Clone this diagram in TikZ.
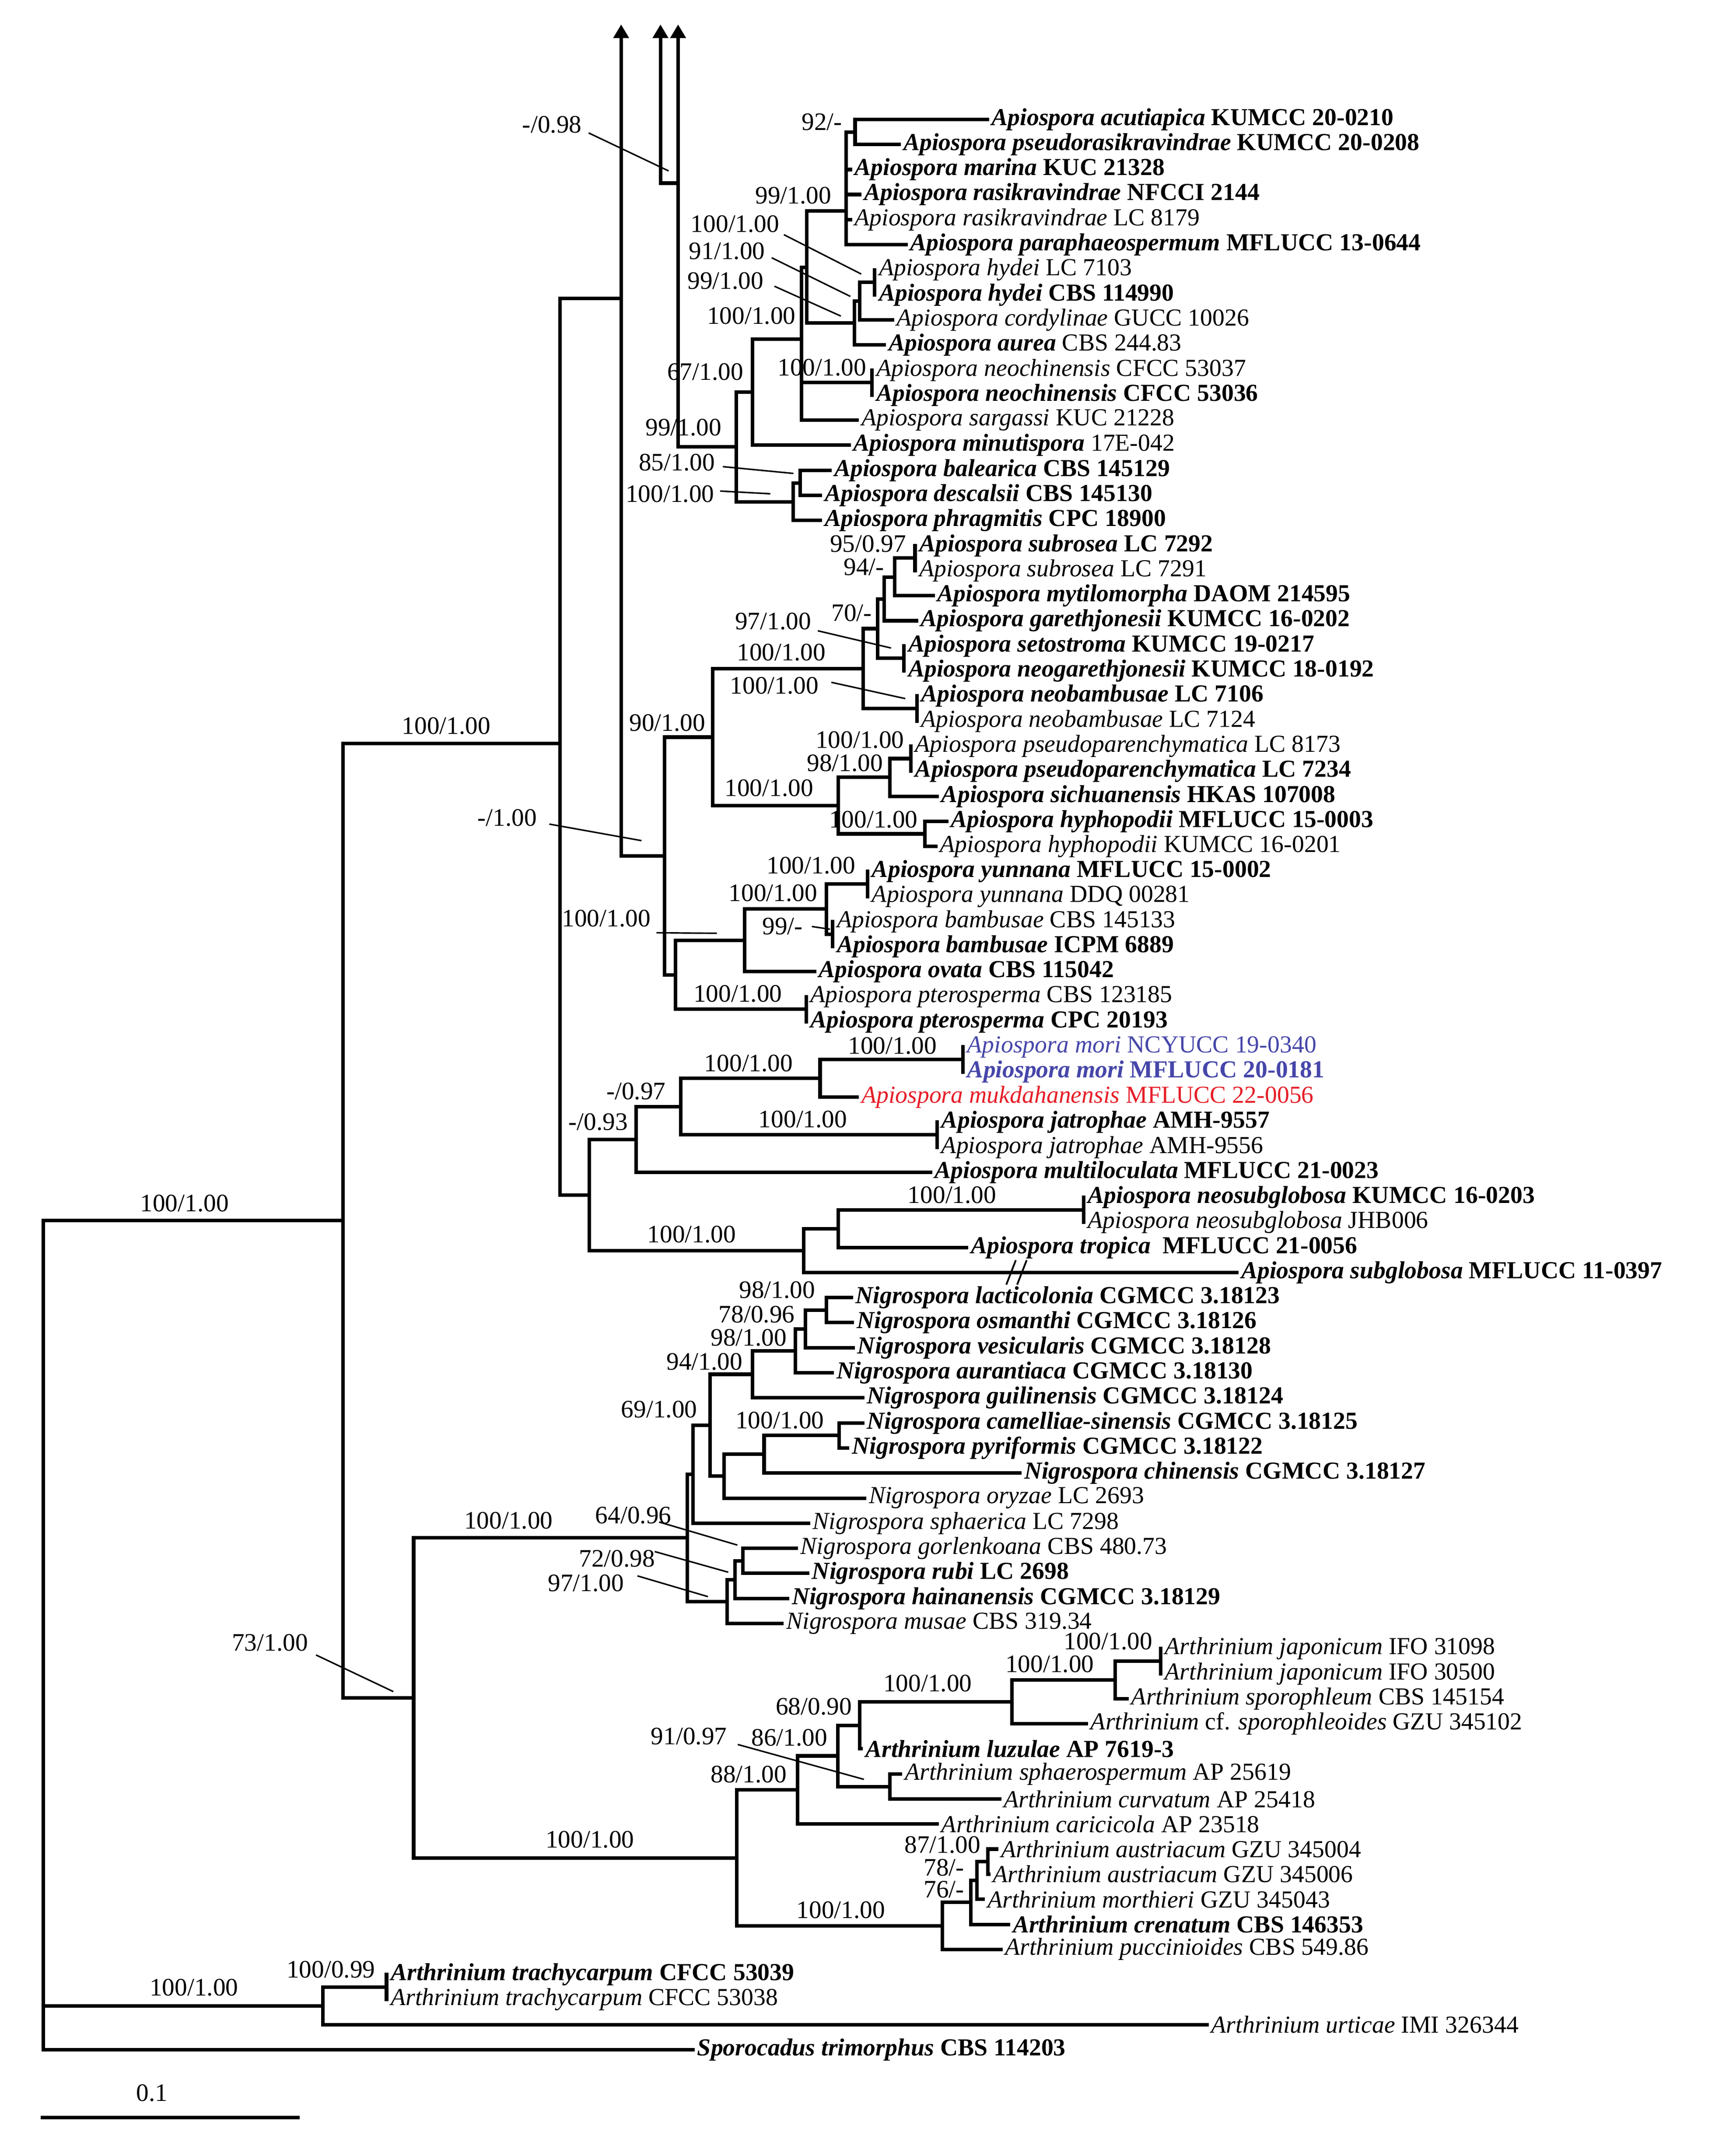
\documentclass[tikz,border=0pt]{standalone}
\usepackage{fontspec}
\setmainfont{Liberation Serif}
\usetikzlibrary{arrows.meta}
\definecolor{mblue}{RGB}{70,70,170}
\definecolor{mred}{RGB}{230,30,40}
\newcommand\lb[2]{\textbf{\textit{#1}} \textbf{#2}}
\newcommand\lp[2]{\textit{#1} #2}
\newcommand\lm[2]{\textbf{\textit{#1}} #2}
\newcommand\kl[2]{\draw[br] (#1 |- #2.west) -- (#2.west);}
\newcommand\ki[2]{\draw[br] (#1 |- #2) -- (#2);}
\newcommand\vv[3]{\draw[br] (#1 |- #2) -- (#1 |- #3);}
\begin{document}
\begin{tikzpicture}[x=1pt,y=-1pt,
  br/.style={line width=2.6pt,line cap=rect},
  ld/.style={line width=1.1pt},
  arr/.style={-{Triangle[width=11pt,length=10pt]}},
  leaf/.style={anchor=west,inner xsep=3pt,inner ysep=0pt,font=\fontsize{18}{20}\selectfont},
  sv/.style={inner sep=0pt,font=\fontsize{18.5}{20}\selectfont}]
\useasboundingbox (0,0) rectangle (1280,1582);
% ---------- leaves ----------
\node[leaf] (l1) at (728,88.0) {\lb{Apiospora acutiapica}{KUMCC 20-0210}};
\node[leaf] (l2) at (663,106.5) {\lb{Apiospora pseudorasikravindrae}{KUMCC 20-0208}};
\node[leaf] (l3) at (627,125.0) {\lb{Apiospora marina}{KUC 21328}};
\node[leaf] (l4) at (634,143.4) {\lb{Apiospora rasikravindrae}{NFCCI 2144}};
\node[leaf] (l5) at (627,161.9) {\lp{Apiospora rasikravindrae}{LC 8179}};
\node[leaf] (l6) at (668,180.4) {\lb{Apiospora paraphaeospermum}{MFLUCC 13-0644}};
\node[leaf] (l7) at (645,198.9) {\lp{Apiospora hydei}{LC 7103}};
\node[leaf] (l8) at (645,217.4) {\lb{Apiospora hydei}{CBS 114990}};
\node[leaf] (l9) at (658,235.8) {\lp{Apiospora cordylinae}{GUCC 10026}};
\node[leaf] (l10) at (652,254.3) {\lm{Apiospora aurea}{CBS 244.83}};
\node[leaf] (l11) at (643,272.8) {\lp{Apiospora neochinensis}{CFCC 53037}};
\node[leaf] (l12) at (643,291.3) {\lb{Apiospora neochinensis}{CFCC 53036}};
\node[leaf] (l13) at (632,309.8) {\lp{Apiospora sargassi}{KUC 21228}};
\node[leaf] (l14) at (626,328.2) {\lm{Apiospora minutispora}{17E-042}};
\node[leaf] (l15) at (612,346.7) {\lb{Apiospora balearica}{CBS 145129}};
\node[leaf] (l16) at (605,365.2) {\lb{Apiospora descalsii}{CBS 145130}};
\node[leaf] (l17) at (605,383.7) {\lb{Apiospora phragmitis}{CPC 18900}};
\node[leaf] (l18) at (674.7,402.2) {\lb{Apiospora subrosea}{LC 7292}};
\node[leaf] (l19) at (674.7,420.6) {\lp{Apiospora subrosea}{LC 7291}};
\node[leaf] (l20) at (688,439.1) {\lb{Apiospora mytilomorpha}{DAOM 214595}};
\node[leaf] (l21) at (675.7,457.6) {\lb{Apiospora garethjonesii}{KUMCC 16-0202}};
\node[leaf] (l22) at (666.5,476.1) {\lb{Apiospora setostroma}{KUMCC 19-0217}};
\node[leaf] (l23) at (666.5,494.6) {\lb{Apiospora neogarethjonesii}{KUMCC 18-0192}};
\node[leaf] (l24) at (676,513.0) {\lb{Apiospora neobambusae}{LC 7106}};
\node[leaf] (l25) at (676,531.5) {\lp{Apiospora neobambusae}{LC 7124}};
\node[leaf] (l26) at (671.6,550.0) {\lp{Apiospora pseudoparenchymatica}{LC 8173}};
\node[leaf] (l27) at (671.6,568.5) {\lb{Apiospora pseudoparenchymatica}{LC 7234}};
\node[leaf] (l28) at (691,587.0) {\lb{Apiospora sichuanensis}{HKAS 107008}};
\node[leaf] (l29) at (698,605.4) {\lb{Apiospora hyphopodii}{MFLUCC 15-0003}};
\node[leaf] (l30) at (690,623.9) {\lp{Apiospora hyphopodii}{KUMCC 16-0201}};
\node[leaf] (l31) at (639.7,642.4) {\lb{Apiospora yunnana}{MFLUCC 15-0002}};
\node[leaf] (l32) at (639.7,660.9) {\lp{Apiospora yunnana}{DDQ 00281}};
\node[leaf] (l33) at (614,679.4) {\lp{Apiospora bambusae}{CBS 145133}};
\node[leaf] (l34) at (614,697.8) {\lb{Apiospora bambusae}{ICPM 6889}};
\node[leaf] (l35) at (600.6,716.3) {\lb{Apiospora ovata}{CBS 115042}};
\node[leaf] (l36) at (594.4,734.8) {\lp{Apiospora pterosperma}{CBS 123185}};
\node[leaf] (l37) at (594.4,753.3) {\lb{Apiospora pterosperma}{CPC 20193}};
\node[leaf,text=mblue] (l38) at (710,771.8) {\lp{Apiospora mori}{NCYUCC 19-0340}};
\node[leaf,text=mblue] (l39) at (710,790.2) {\lb{Apiospora mori}{MFLUCC 20-0181}};
\node[leaf,text=mred] (l40) at (632,808.7) {\lp{Apiospora mukdahanensis}{MFLUCC 22-0056}};
\node[leaf] (l41) at (691,827.2) {\lb{Apiospora jatrophae}{AMH-9557}};
\node[leaf] (l42) at (691,845.7) {\lp{Apiospora jatrophae}{AMH-9556}};
\node[leaf] (l43) at (686,864.2) {\lb{Apiospora multiloculata}{MFLUCC 21-0023}};
\node[leaf] (l44) at (799,882.6) {\lb{Apiospora neosubglobosa}{KUMCC 16-0203}};
\node[leaf] (l45) at (799,901.1) {\lp{Apiospora neosubglobosa}{JHB006}};
\node[leaf] (l46) at (712.7,919.6) {\lb{Apiospora tropica}{\ MFLUCC 21-0056}};
\node[leaf] (l47) at (912,938.1) {\lb{Apiospora subglobosa}{MFLUCC 11-0397}};
\node[leaf] (l48) at (627.6,956.6) {\lb{Nigrospora lacticolonia}{CGMCC 3.18123}};
\node[leaf] (l49) at (628.5,975.0) {\lb{Nigrospora osmanthi}{CGMCC 3.18126}};
\node[leaf] (l50) at (629,993.5) {\lb{Nigrospora vesicularis}{CGMCC 3.18128}};
\node[leaf] (l51) at (613.6,1012.0) {\lb{Nigrospora aurantiaca}{CGMCC 3.18130}};
\node[leaf] (l52) at (636,1030.5) {\lb{Nigrospora guilinensis}{CGMCC 3.18124}};
\node[leaf] (l53) at (636,1049.0) {\lb{Nigrospora camelliae-sinensis}{CGMCC 3.18125}};
\node[leaf] (l54) at (625,1067.4) {\lb{Nigrospora pyriformis}{CGMCC 3.18122}};
\node[leaf] (l55) at (752,1085.9) {\lb{Nigrospora chinensis}{CGMCC 3.18127}};
\node[leaf] (l56) at (637.5,1104.4) {\lp{Nigrospora oryzae}{LC 2693}};
\node[leaf] (l57) at (596,1122.9) {\lp{Nigrospora sphaerica}{LC 7298}};
\node[leaf] (l58) at (587,1141.4) {\lp{Nigrospora gorlenkoana}{CBS 480.73}};
\node[leaf] (l59) at (595.5,1159.8) {\lb{Nigrospora rubi}{LC 2698}};
\node[leaf] (l60) at (580.7,1178.3) {\lb{Nigrospora hainanensis}{CGMCC 3.18129}};
\node[leaf] (l61) at (576.6,1196.8) {\lp{Nigrospora musae}{CBS 319.34}};
\node[leaf] (l62) at (855.8,1215.3) {\lp{Arthrinium japonicum}{IFO 31098}};
\node[leaf] (l63) at (855.8,1233.8) {\lp{Arthrinium japonicum}{IFO 30500}};
\node[leaf] (l64) at (831,1252.2) {\lp{Arthrinium sporophleum}{CBS 145154}};
\node[leaf] (l65) at (801,1270.7) {\textit{Arthrinium} cf. \textit{sporophleoides} GZU 345102};
\node[leaf] (l66) at (635,1289.2) {\lb{Arthrinium luzulae}{AP 7619-3}};
\node[leaf] (l67) at (664,1307.7) {\lp{Arthrinium sphaerospermum}{AP 25619}};
\node[leaf] (l68) at (737,1326.2) {\lp{Arthrinium curvatum}{AP 25418}};
\node[leaf] (l69) at (691,1344.6) {\lp{Arthrinium caricicola}{AP 23518}};
\node[leaf] (l70) at (735,1363.1) {\lp{Arthrinium austriacum}{GZU 345004}};
\node[leaf] (l71) at (729,1381.6) {\lp{Arthrinium austriacum}{GZU 345006}};
\node[leaf] (l72) at (725,1400.1) {\lp{Arthrinium morthieri}{GZU 345043}};
\node[leaf] (l73) at (743.6,1418.6) {\lb{Arthrinium crenatum}{CBS 146353}};
\node[leaf] (l74) at (738,1437.0) {\lp{Arthrinium puccinioides}{CBS 549.86}};
\node[leaf] (l75) at (285,1455.5) {\lb{Arthrinium trachycarpum}{CFCC 53039}};
\node[leaf] (l76) at (285,1474.0) {\lp{Arthrinium trachycarpum}{CFCC 53038}};
\node[leaf] (l77) at (890,1492.5) {\lp{Arthrinium urticae}{IMI 326344}};
\node[leaf] (l78) at (511,1511.0) {\lb{Sporocadus trimorphus}{CBS 114203}};
% ---------- internal nodes ----------
\coordinate (n92) at (630.5,97.3);
\coordinate (n99a) at (624,155.6);
\coordinate (nH1) at (645,208.2);
\coordinate (nH2) at (634,222);
\coordinate (nH3) at (630,238.2);
\coordinate (nN3) at (595,197);
\coordinate (nNeo) at (643,282);
\coordinate (n100d) at (591,250);
\coordinate (n67) at (555,289);
\coordinate (nBD) at (590,356);
\coordinate (nBal) at (585,370);
\coordinate (n99b) at (543,329.5);
\coordinate (arA) at (458,18);
\coordinate (arB) at (487,18);
\coordinate (arC) at (500,18);
\coordinate (jA) at (458,220);
\coordinate (jB) at (487,135);
\coordinate (nSub) at (674.7,411.4);
\coordinate (nMyt) at (659.7,425.5);
\coordinate (nGar) at (652,441.5);
\coordinate (nSet) at (666.5,485.3);
\coordinate (nSG) at (647,463.4);
\coordinate (nNb) at (676,522.3);
\coordinate (nU) at (636.6,492.8);
\coordinate (nPp) at (671.6,559.2);
\coordinate (nPS) at (656,573);
\coordinate (nHy) at (682,614.7);
\coordinate (nL) at (618,594);
\coordinate (n90) at (525.5,543.4);
\coordinate (nYu) at (639.7,651.6);
\coordinate (nBa) at (614,688.6);
\coordinate (nYB) at (609.5,670.1);
\coordinate (nOv) at (549,693.2);
\coordinate (nPt) at (594.4,744);
\coordinate (nPO) at (498,718.6);
\coordinate (n1) at (490,631);
\coordinate (nMo) at (710,781);
\coordinate (nMM) at (604.7,794.9);
\coordinate (nJa) at (691,836.5);
\coordinate (nMJ) at (502,815.7);
\coordinate (n097) at (469,840);
\coordinate (nNs) at (799,891.9);
\coordinate (nNT) at (618,905.8);
\coordinate (nTS) at (592.6,922);
\coordinate (n093) at (434.6,881);
\coordinate (nB) at (413,548);
\coordinate (nLO) at (609.5,965.8);
\coordinate (n78) at (594,979.6);
\coordinate (n98b) at (586.5,995.8);
\coordinate (n94) at (555,1013.1);
\coordinate (nCP) at (618.6,1058.2);
\coordinate (nCh) at (563.4,1072);
\coordinate (nOr) at (533.8,1088.2);
\coordinate (n69) at (523.6,1050.6);
\coordinate (nSp) at (511,1086.8);
\coordinate (nGR) at (547.8,1150.6);
\coordinate (nHa) at (542,1164.5);
\coordinate (nMu) at (536,1180.7);
\coordinate (nNig) at (506.7,1133.7);
\coordinate (nJp) at (855.8,1224.5);
\coordinate (nSpo) at (822.4,1238.4);
\coordinate (nCf) at (746,1254.5);
\coordinate (nLu) at (634,1271.9);
\coordinate (nSC) at (656,1317);
\coordinate (n86) at (617.7,1294.4);
\coordinate (n88) at (588,1319.5);
\coordinate (nAu) at (728.5,1372.4);
\coordinate (n78b) at (720.3,1386.2);
\coordinate (n76) at (715.7,1402.4);
\coordinate (nPu) at (695,1419.7);
\coordinate (nArt) at (543.3,1369.6);
\coordinate (nC) at (305,1251.6);
\coordinate (nA) at (253,899.8);
\coordinate (nTr) at (285,1464.8);
\coordinate (nT) at (238,1478.6);
\coordinate (nR) at (32,1000);
% ---------- branches ----------
% top clade
\vv{n92}{l1}{l2} \kl{n92}{l1} \kl{n92}{l2}
\vv{n99a}{n92}{l6} \ki{n99a}{n92} \kl{n99a}{l3} \kl{n99a}{l4} \kl{n99a}{l5} \kl{n99a}{l6}
\vv{nH1}{l7}{l8}
\vv{nH2}{nH1}{l9} \ki{nH2}{nH1} \kl{nH2}{l9}
\vv{nH3}{nH2}{l10} \ki{nH3}{nH2} \kl{nH3}{l10}
\vv{nN3}{n99a}{nH3} \ki{nN3}{n99a} \ki{nN3}{nH3}
\vv{nNeo}{l11}{l12}
\vv{n100d}{nN3}{l13} \ki{n100d}{nN3} \ki{n100d}{nNeo} \kl{n100d}{l13}
\vv{n67}{n100d}{l14} \ki{n67}{n100d} \kl{n67}{l14}
\vv{nBD}{l15}{l16} \kl{nBD}{l15} \kl{nBD}{l16}
\vv{nBal}{nBD}{l17} \ki{nBal}{nBD} \kl{nBal}{l17}
\vv{n99b}{n67}{nBal} \ki{n99b}{n67} \ki{n99b}{nBal}
% arrow lines
\draw[br] (n99b -| arC) -- (n99b);
\draw[br,arr] (n99b -| arC) -- (arC);
\draw[br,arr] (jB -| arC) -- (jB) -- (arB);
\draw[br,arr] (n1 -| arA) -- (arA);
\draw[br] (n1 -| arA) -- (n1);
\draw[br] (nB |- jA) -- (jA);
% 90/1.00 clade
\vv{nSub}{l18}{l19}
\vv{nMyt}{nSub}{l20} \ki{nMyt}{nSub} \kl{nMyt}{l20}
\vv{nGar}{nMyt}{l21} \ki{nGar}{nMyt} \kl{nGar}{l21}
\vv{nSet}{l22}{l23}
\vv{nSG}{nGar}{nSet} \ki{nSG}{nGar} \ki{nSG}{nSet}
\vv{nNb}{l24}{l25}
\vv{nU}{nSG}{nNb} \ki{nU}{nSG} \ki{nU}{nNb}
\vv{nPp}{l26}{l27}
\vv{nPS}{nPp}{l28} \ki{nPS}{nPp} \kl{nPS}{l28}
\vv{nHy}{l29}{l30} \kl{nHy}{l29} \kl{nHy}{l30}
\vv{nL}{nPS}{nHy} \ki{nL}{nPS} \ki{nL}{nHy}
\vv{n90}{nU}{nL} \ki{n90}{nU} \ki{n90}{nL}
\vv{nYu}{l31}{l32}
\vv{nBa}{l33}{l34}
\vv{nYB}{nYu}{nBa} \ki{nYB}{nYu} \ki{nYB}{nBa}
\vv{nOv}{nYB}{l35} \ki{nOv}{nYB} \kl{nOv}{l35}
\vv{nPt}{l36}{l37}
\vv{nPO}{nOv}{nPt} \ki{nPO}{nOv} \ki{nPO}{nPt}
\vv{n1}{n90}{nPO} \ki{n1}{n90} \ki{n1}{nPO}
% mori etc
\vv{nMo}{l38}{l39}
\vv{nMM}{nMo}{l40} \ki{nMM}{nMo} \kl{nMM}{l40}
\vv{nJa}{l41}{l42}
\vv{nMJ}{nMM}{nJa} \ki{nMJ}{nMM} \ki{nMJ}{nJa}
\vv{n097}{nMJ}{l43} \ki{n097}{nMJ} \kl{n097}{l43}
\vv{nNs}{l44}{l45}
\vv{nNT}{nNs}{l46} \ki{nNT}{nNs} \kl{nNT}{l46}
\vv{nTS}{nNT}{l47} \ki{nTS}{nNT} \kl{nTS}{l47}
\vv{n093}{n097}{nTS} \ki{n093}{n097} \ki{n093}{nTS}
\vv{nB}{jA}{n093} \ki{nB}{n093}
\draw[line width=1.3pt] (742,947) -- (749,929) (750,947) -- (757,929);
% Nigrospora
\vv{nLO}{l48}{l49} \kl{nLO}{l48} \kl{nLO}{l49}
\vv{n78}{nLO}{l50} \ki{n78}{nLO} \kl{n78}{l50}
\vv{n98b}{n78}{l51} \ki{n98b}{n78} \kl{n98b}{l51}
\vv{n94}{n98b}{l52} \ki{n94}{n98b} \kl{n94}{l52}
\vv{nCP}{l53}{l54} \kl{nCP}{l53} \kl{nCP}{l54}
\vv{nCh}{nCP}{l55} \ki{nCh}{nCP} \kl{nCh}{l55}
\vv{nOr}{nCh}{l56} \ki{nOr}{nCh} \kl{nOr}{l56}
\vv{n69}{n94}{nOr} \ki{n69}{n94} \ki{n69}{nOr}
\vv{nSp}{n69}{l57} \ki{nSp}{n69} \kl{nSp}{l57}
\vv{nGR}{l58}{l59} \kl{nGR}{l58} \kl{nGR}{l59}
\vv{nHa}{nGR}{l60} \ki{nHa}{nGR} \kl{nHa}{l60}
\vv{nMu}{nHa}{l61} \ki{nMu}{nHa} \kl{nMu}{l61}
\vv{nNig}{nSp}{nMu} \ki{nNig}{nSp} \ki{nNig}{nMu}
% Arthrinium
\vv{nJp}{l62}{l63}
\vv{nSpo}{nJp}{l64} \ki{nSpo}{nJp} \kl{nSpo}{l64}
\vv{nCf}{nSpo}{l65} \ki{nCf}{nSpo} \kl{nCf}{l65}
\vv{nLu}{nCf}{l66} \ki{nLu}{nCf} \kl{nLu}{l66}
\vv{nSC}{l67}{l68} \kl{nSC}{l67} \kl{nSC}{l68}
\vv{n86}{nLu}{nSC} \ki{n86}{nLu} \ki{n86}{nSC}
\vv{n88}{n86}{l69} \ki{n88}{n86} \kl{n88}{l69}
\vv{nAu}{l70}{l71} \kl{nAu}{l70} \kl{nAu}{l71}
\vv{n78b}{nAu}{l72} \ki{n78b}{nAu} \kl{n78b}{l72}
\vv{n76}{n78b}{l73} \ki{n76}{n78b} \kl{n76}{l73}
\vv{nPu}{n76}{l74} \ki{nPu}{n76} \kl{nPu}{l74}
\vv{nArt}{n88}{nPu} \ki{nArt}{n88} \ki{nArt}{nPu}
\vv{nC}{nNig}{nArt} \ki{nC}{nNig} \ki{nC}{nArt}
\vv{nA}{nB}{nC} \ki{nA}{nB} \ki{nA}{nC}
\vv{nTr}{l75}{l76}
\vv{nT}{nTr}{l77} \ki{nT}{nTr} \kl{nT}{l77}
\vv{nR}{nA}{l78} \ki{nR}{nA} \ki{nR}{nT} \kl{nR}{l78}
% ---------- support values ----------
\node[sv] (s1) at (407,92) {-/0.98};
\node[sv] (s2) at (606,90) {92/-};
\node[sv] (s3) at (585,144) {99/1.00};
\node[sv] (s4) at (542,165) {100/1.00};
\node[sv] (s5) at (536,185) {91/1.00};
\node[sv] (s6) at (535,207) {99/1.00};
\node[sv] (s7) at (554,233) {100/1.00};
\node[sv] (s8) at (606,271) {100/1.00};
\node[sv] (s9) at (520,274) {67/1.00};
\node[sv] (s10) at (504,315) {99/1.00};
\node[sv] (s11) at (499,341) {85/1.00};
\node[sv] (s12) at (494,364) {100/1.00};
\node[sv] (s13) at (640,401) {95/0.97};
\node[sv] (s14) at (637,418) {94/-};
\node[sv] (s15) at (628,452) {70/-};
\node[sv] (s16) at (570,458) {97/1.00};
\node[sv] (s17) at (576,481) {100/1.00};
\node[sv] (s18) at (571,505.6) {100/1.00};
\node[sv] (s19) at (492,533) {90/1.00};
\node[sv] (s20) at (634,545.6) {100/1.00};
\node[sv] (s21) at (623,562.6) {98/1.00};
\node[sv] (s22) at (567,581) {100/1.00};
\node[sv] (s23) at (644,604) {100/1.00};
\node[sv] (s24) at (374,603) {-/1.00};
\node[sv] (s25) at (598,638) {100/1.00};
\node[sv] (s26) at (570,658.5) {100/1.00};
\node[sv] (s27) at (447,677) {100/1.00};
\node[sv] (s28) at (577,683) {99/-};
\node[sv] (s29) at (544,732.6) {100/1.00};
\node[sv] (s30) at (658,771) {100/1.00};
\node[sv] (s31) at (552,784) {100/1.00};
\node[sv] (s32) at (469,804.5) {-/0.97};
\node[sv] (s33) at (592,825) {100/1.00};
\node[sv] (s34) at (441,827) {-/0.93};
\node[sv] (s35) at (702,881) {100/1.00};
\node[sv] (s36) at (510,910) {100/1.00};
\node[sv] (s37) at (573,951) {98/1.00};
\node[sv] (s38) at (558,969) {78/0.96};
\node[sv] (s39) at (552,986) {98/1.00};
\node[sv] (s40) at (519.5,1004) {94/1.00};
\node[sv] (s41) at (486,1039) {69/1.00};
\node[sv] (s42) at (575,1047) {100/1.00};
\node[sv] (s43) at (375,1121) {100/1.00};
\node[sv] (s44) at (467,1117) {64/0.96};
\node[sv] (s45) at (455,1149) {72/0.98};
\node[sv] (s46) at (432,1167) {97/1.00};
\node[sv] (s47) at (199,1211) {73/1.00};
\node[sv] (s48) at (435,1356) {100/1.00};
\node[sv] (s49) at (817,1210) {100/1.00};
\node[sv] (s50) at (774,1226.7) {100/1.00};
\node[sv] (s51) at (684,1241) {100/1.00};
\node[sv] (s52) at (600,1258) {68/0.90};
\node[sv] (s53) at (508,1280) {91/0.97};
\node[sv] (s54) at (582,1281) {86/1.00};
\node[sv] (s55) at (552,1308) {88/1.00};
\node[sv] (s56) at (695,1360) {87/1.00};
\node[sv] (s57) at (696,1376.7) {78/-};
\node[sv] (s58) at (696,1393) {76/-};
\node[sv] (s59) at (620,1408) {100/1.00};
\node[sv] (s60) at (143,1465) {100/1.00};
\node[sv] (s61) at (244,1452) {100/0.99};
\node[sv] (s62) at (136,887) {100/1.00};
\node[sv] (s63) at (329,535) {100/1.00};
% leader lines
\coordinate (e1) at (493,126); \draw[ld] (s1.east) ++(5,6) -- (e1);
\coordinate (e4) at (635,202); \draw[ld] (578,173) -- (e4);
\coordinate (e5) at (627,218.5); \draw[ld] (569,190) -- (e5);
\coordinate (e6) at (620,233); \draw[ld] (571,211) -- (e6);
\coordinate (e11) at (585,349); \draw[ld] (533,344) -- (e11);
\coordinate (e12) at (568,364); \draw[ld] (531,362) -- (e12);
\coordinate (e16) at (657,477.7); \draw[ld] (603,465) -- (e16);
\coordinate (e18) at (667.5,515); \draw[ld] (613,503) -- (e18);
\coordinate (e24) at (473,619.7); \draw[ld] (405,607.5) -- (e24);
\coordinate (e27) at (528.6,688); \draw[ld] (484,687.6) -- (e27);
\coordinate (e28) at (612,685); \draw[ld] (598.6,683) -- (e28);
\coordinate (e44) at (543.7,1139); \draw[ld] (486,1122) -- (e44);
\coordinate (e45) at (537,1159); \draw[ld] (482.8,1143.8) -- (e45);
\coordinate (e46) at (522,1177); \draw[ld] (470,1161.7) -- (e46);
\coordinate (e47) at (290,1247); \draw[ld] (233,1220) -- (e47);
\coordinate (e53) at (637,1311.7); \draw[ld] (544,1286) -- (e53);
% scale bar
\coordinate (sb1) at (30,1561); \coordinate (sb2) at (221,1561);
\draw[line width=2.6pt] (sb1) -- (sb2);
\node[sv] (sbl) at (112,1543) {0.1};
\end{tikzpicture}
\end{document}
